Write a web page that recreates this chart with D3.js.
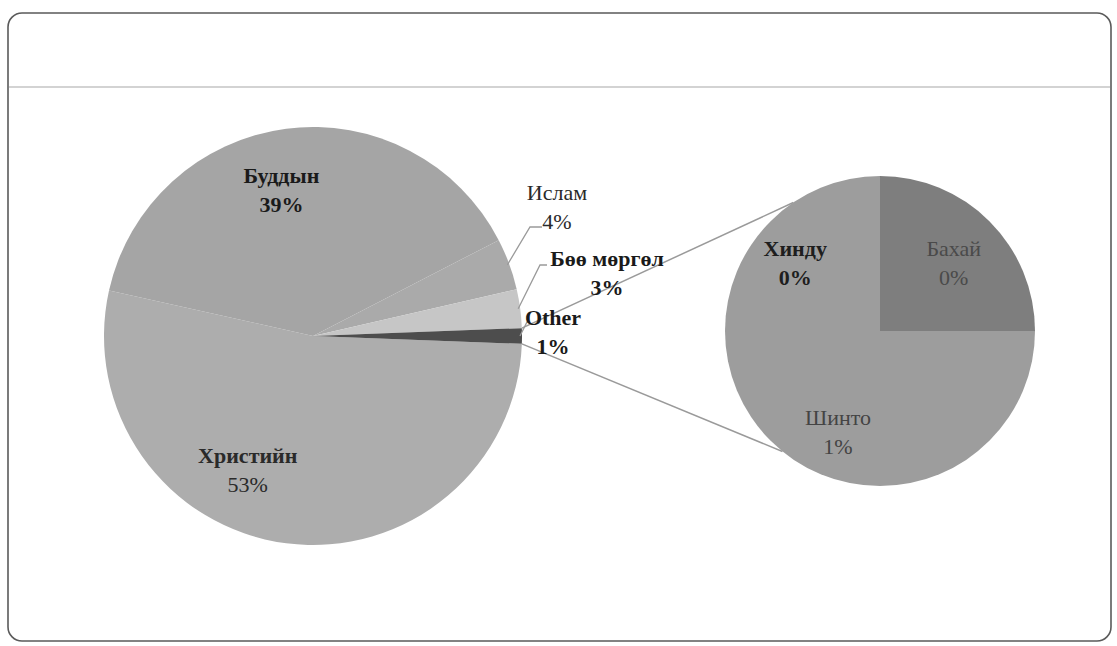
<!DOCTYPE html>
<html>
<head>
<meta charset="utf-8">
<script src="https://cdn.jsdelivr.net/npm/d3@7"></script>
<style>
  body{margin:0;background:#fff}
  svg{display:block}
  .lbl{font-family:"Liberation Serif","DejaVu Serif",serif;font-size:22px}
</style>
</head>
<body>
<svg id="chart" width="1117" height="646"></svg>
<script>
// main pie
const mainNames=['Христийн','Буддын','Ислам','Бөө мөргөл','Other']
const mainValues=[53,39,4,3]
// second pie (split of Other)
const subNames=['Бахай','Шинто','Хинду']
const subValues=[0.3,0.6,0.3]

const mainColors=['#adadad','#a5a5a5','#aaaaaa','#c6c6c6','#4d4d4d']
const subColors=['#7e7e7e','#9d9d9d','#9d9d9d']

const otherValue=d3.sum(subValues)
const allMain=mainValues.concat([otherValue])
const total=d3.sum(allMain)
const pct=v=>Math.round(v/total*100)+'%'

const svg=d3.select('#chart')

// frame
svg.append('rect')
  .attr('x',8).attr('y',13).attr('width',1103).attr('height',628)
  .attr('rx',14)
  .attr('fill','none').attr('stroke','#5a5a5a').attr('stroke-width',1.6)
svg.append('line')
  .attr('x1',9).attr('x2',1110).attr('y1',87).attr('y2',87)
  .attr('stroke','#c4c4c4').attr('stroke-width',1.5)

const c1={x:313,y:336,r:209}
const c2={x:880,y:331,r:155}

const otherAngle=otherValue/total*2*Math.PI
const pieMain=d3.pie().sort(null).value(d=>d)
  .startAngle(Math.PI/2+otherAngle/2)
  .endAngle(Math.PI/2+otherAngle/2+2*Math.PI)
const arcsMain=pieMain(allMain)
const pieSub=d3.pie().sort(null).value(d=>d)
const arcsSub=pieSub(subValues)

const arc1=d3.arc().innerRadius(0).outerRadius(c1.r)
const arc2=d3.arc().innerRadius(0).outerRadius(c2.r)

const polar=(c,a,r)=>[c.x+r*Math.sin(a),c.y-r*Math.cos(a)]

// connector lines between pies
const oArc=arcsMain[4]
const conn=[
  [polar(c1,oArc.startAngle,c1.r),polar(c2,326*Math.PI/180,c2.r)],
  [polar(c1,oArc.endAngle-2*Math.PI,c1.r),polar(c2,219*Math.PI/180,c2.r)]
]
svg.append('g').selectAll('line').data(conn).enter().append('line')
  .attr('x1',d=>d[0][0]).attr('y1',d=>d[0][1])
  .attr('x2',d=>d[1][0]).attr('y2',d=>d[1][1])
  .attr('stroke','#9a9a9a').attr('stroke-width',1.5)

const g1=svg.append('g').attr('transform','translate('+c1.x+','+c1.y+')')
g1.selectAll('path').data(arcsMain).enter().append('path')
  .attr('d',arc1).attr('fill',(d,i)=>mainColors[i])

const g2=svg.append('g').attr('transform','translate('+c2.x+','+c2.y+')')
g2.selectAll('path').data(arcsSub).enter().append('path')
  .attr('d',arc2).attr('fill',(d,i)=>subColors[i])

// label placement (tweaks to match excel best-fit)
const mainLabel={
  'Христийн':{r:150,dx:-46,dy:-29,w1:'bold',w2:'normal',c:'#2a2a2a'},
  'Буддын':{r:160,dx:-11,dy:-2,w1:'bold',w2:'bold',c:'#1a1a1a'},
  'Ислам':{out:true,tx:557,ty:192,elbow:[530,227],end:[542,227],w1:'normal',w2:'normal',c:'#2a2a2a'},
  'Бөө мөргөл':{out:true,tx:607,ty:258,elbow:[540,265],end:[547,265],w1:'bold',w2:'bold',c:'#1a1a1a'},
  'Other':{out:true,tx:553,ty:317,elbow:[527,322],end:[530,322],w1:'bold',w2:'bold',c:'#1a1a1a'}
}
const subLabel={
  'Бахай':{r:110,dx:-4,dy:-5,w1:'normal',w2:'normal',c:'#4a4a4a'},
  'Шинто':{r:85,dx:-42,dy:1,w1:'normal',w2:'normal',c:'#444'},
  'Хинду':{r:110,dx:-7,dy:-5,w1:'bold',w2:'bold',c:'#1e1e1e'}
}

function drawText(x,y,name,value,o){
  const t=svg.append('g')
  t.append('text').attr('class','lbl').attr('x',x).attr('y',y)
    .attr('text-anchor','middle').attr('dominant-baseline','central')
    .attr('font-weight',o.w1).attr('fill',o.c).text(name)
  t.append('text').attr('class','lbl').attr('x',x).attr('y',y+29)
    .attr('text-anchor','middle').attr('dominant-baseline','central')
    .attr('font-weight',o.w2).attr('fill',o.c).text(pct(value))
}

arcsMain.forEach((d,i)=>{
  const name=mainNames[i],o=mainLabel[name]
  const mid=(d.startAngle+d.endAngle)/2
  if(o.out){
    const p=polar(c1,mid,c1.r-2)
    svg.append('polyline')
      .attr('points',[p,o.elbow,o.end].map(q=>q.join(',')).join(' '))
      .attr('fill','none').attr('stroke','#9a9a9a').attr('stroke-width',1.3)
    drawText(o.tx,o.ty,name,d.value,o)
  }else{
    const p=polar(c1,mid,o.r)
    drawText(p[0]+o.dx,p[1]+o.dy,name,d.value,o)
  }
})

arcsSub.forEach((d,i)=>{
  const name=subNames[i],o=subLabel[name]
  const mid=(d.startAngle+d.endAngle)/2
  const p=polar(c2,mid,o.r)
  drawText(p[0]+o.dx,p[1]+o.dy,name,d.value,o)
})
</script>
</body>
</html>
